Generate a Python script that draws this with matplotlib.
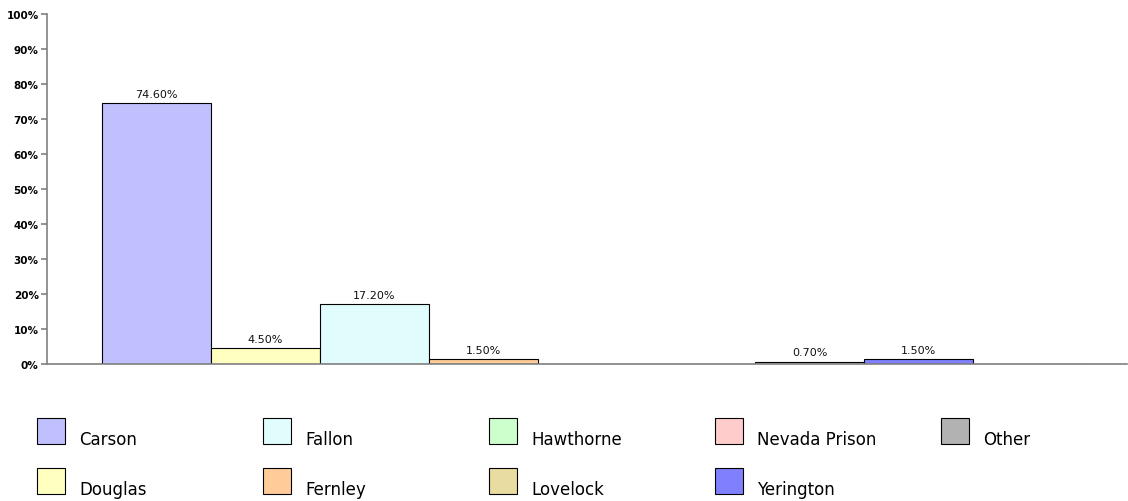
import matplotlib.pyplot as plt
from matplotlib.patches import Rectangle

sites = ['Carson', 'Douglas', 'Fallon', 'Fernley', 'Hawthorne',
         'Lovelock', 'Nevada Prison', 'Yerington', 'Other']
shares = [74.6, 4.5, 17.2, 1.5, 0.0, 0.0, 0.7, 1.5, 0.0]
colors = ['#C0C0FF', '#FFFFC0', '#E0FCFC', '#FFCC99', '#CCFFCC',
          '#E8DCA0', '#FFCCCC', '#8080FF', '#B2B2B2']
yticks = [0, 10, 20, 30, 40, 50, 60, 70, 80, 90, 100]

W, H = 1128, 502
fig = plt.figure(figsize=(W / 100, H / 100), dpi=100)
ax = fig.add_axes([47 / W, (H - 365) / H, (1127 - 47) / W, 350 / H])

x = list(range(len(sites)))
ax.bar(x, shares, width=1.0, color=colors, edgecolor='black', linewidth=0.8)

# value labels above non-zero bars
for xi, v in zip(x, shares):
    if v > 0:
        ax.annotate(f'{v:.2f}%', (xi, v), xytext=(0, 3), textcoords='offset points',
                    ha='center', va='bottom', fontsize=8, color='#111111')

ax.set_xlim(-1.005, 8.913)
ax.set_ylim(0, 100)
ax.set_yticks(yticks)
ax.set_yticklabels([f'{t}%' for t in yticks], fontsize=7.5, fontweight='bold')
ax.set_xticks([])
for s in ['top', 'right']:
    ax.spines[s].set_visible(False)
for s in ['left', 'bottom']:
    ax.spines[s].set_color('#808080')
    ax.spines[s].set_linewidth(1.2)
ax.tick_params(axis='y', colors='#808080', length=4, width=1.2, labelcolor='black', pad=2)

# legend drawn by hand: 5 evenly spaced columns, filled column by column
for i, (name, c) in enumerate(zip(sites, colors)):
    col, row = divmod(i, 2)
    x0 = 37 + 226 * col
    y0 = 419 + 50 * row
    fig.add_artist(Rectangle((x0 / W, 1 - (y0 + 26) / H), 28 / W, 26 / H,
                             transform=fig.transFigure, facecolor=c,
                             edgecolor='black', linewidth=0.8))
    fig.text((x0 + 42) / W, 1 - (y0 + 26) / H, name, fontsize=12,
             ha='left', va='baseline')

fig.savefig('out.png', dpi=100)
